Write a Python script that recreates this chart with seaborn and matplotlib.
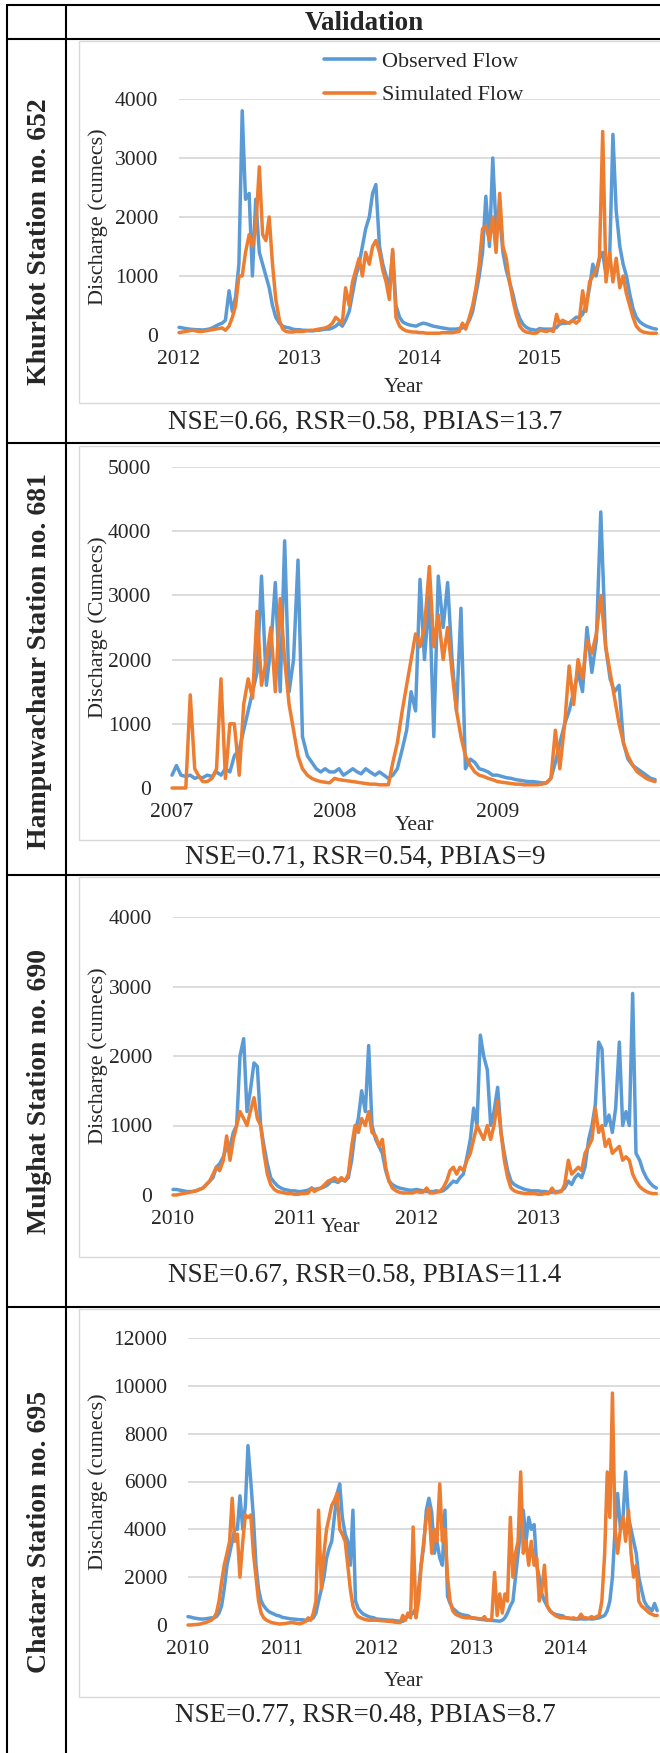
import pandas as pd
import matplotlib
matplotlib.use("Agg")
import matplotlib.pyplot as plt
import matplotlib.dates as mdates
from matplotlib.lines import Line2D
from matplotlib.patches import Rectangle
import seaborn as sns

# --- data: one value per dekad (1st, 11th, 21st of each month) ---

KHURKOT_YEARS = [2012, 2013, 2014, 2015]
khurkot_obs = [
    130, 120, 110, 100, 95, 90, 90, 85, 90, 100, 120, 150, 180, 200, 250, 750, 400, 650,
    1200, 3800, 2300, 2400, 1000, 2300, 1400, 1200, 1000, 800, 500, 300, 200, 150, 130, 120, 100, 90,
    90, 80, 80, 70, 70, 80, 80, 90, 100, 100, 120, 150, 200, 150, 250, 400, 700, 1000,
    1200, 1500, 1800, 2000, 2400, 2550, 1500, 1200, 1000, 800, 1400, 500, 300, 220, 190, 170, 160, 150,
    180, 200, 190, 170, 150, 140, 130, 120, 110, 100, 100, 100, 110, 120, 150, 250, 400, 700,
    1000, 1400, 2350, 1500, 3000, 1800, 2000, 1400, 1100, 900, 700, 450, 280, 180, 130, 100, 90, 80,
    110, 100, 100, 100, 100, 130, 180, 200, 200, 210, 250, 300, 300, 350, 500, 800, 1200, 1000,
    1300, 1400, 1000, 1300, 3400, 2100, 1500, 1200, 1000, 700, 450, 300, 220, 180, 150, 130, 110, 100,
]
khurkot_sim = [
    40, 50, 60, 70, 80, 70, 60, 60, 70, 80, 90, 100, 110, 120, 80, 150, 300, 500,
    1000, 1000, 1400, 1700, 1500, 1800, 2850, 1700, 1600, 2000, 1200, 600, 250, 100, 60, 50, 50, 60,
    60, 60, 70, 80, 80, 90, 100, 110, 120, 150, 200, 300, 250, 200, 800, 500, 900, 1100,
    1300, 1000, 1400, 1200, 1500, 1600, 1400, 1100, 900, 600, 1450, 300, 150, 100, 70, 60, 50, 50,
    40, 40, 30, 30, 30, 30, 30, 40, 40, 40, 40, 50, 60, 200, 100, 300, 500, 800,
    1200, 1800, 1850, 1600, 2000, 1400, 2400, 1500, 1300, 900, 600, 350, 150, 80, 50, 40, 30, 30,
    80, 70, 60, 80, 60, 350, 200, 250, 220, 200, 250, 200, 250, 750, 400, 900, 1000, 1100,
    1300, 3450, 900, 1400, 900, 1300, 800, 1000, 700, 500, 300, 150, 80, 50, 40, 30, 30, 30,
]

HAMPU_YEARS = [2007, 2008, 2009]
hampu_obs = [
    200, 350, 200, 180, 200, 150, 170, 160, 200, 180, 250, 200, 300, 250, 500, 600, 900, 1200,
    1500, 1800, 3300, 1600, 2200, 3200, 1500, 3850, 1500, 2000, 3550, 800, 500, 400, 300, 250, 300, 250,
    250, 300, 200, 250, 300, 250, 220, 300, 250, 200, 250, 200, 150, 200, 300, 600, 900, 1500,
    1200, 3250, 2000, 3000, 800, 3300, 2500, 3200, 2000, 1200, 2800, 300, 450, 400, 300, 280, 250, 200,
    200, 180, 160, 150, 130, 120, 110, 100, 100, 90, 80, 80, 150, 400, 700, 1000, 1200, 1500,
    1800, 1500, 2500, 1800, 2300, 4300, 2200, 1700, 1500, 1600, 700, 450, 350, 300, 250, 200, 150, 130,
]
hampu_sim = [
    0, 0, 0, 0, 1450, 300, 200, 100, 100, 150, 300, 1700, 150, 1000, 1000, 200, 1300, 1700,
    1400, 2750, 1600, 2000, 2500, 1500, 2950, 2000, 1300, 900, 500, 300, 200, 150, 120, 100, 90, 80,
    150, 130, 120, 110, 100, 90, 80, 70, 60, 60, 50, 50, 50, 400, 700, 1200, 1600, 2000,
    2400, 2200, 2500, 3450, 2200, 2700, 2000, 2500, 1800, 1200, 800, 500, 350, 250, 200, 180, 150, 130,
    100, 90, 80, 70, 60, 60, 50, 50, 50, 50, 60, 80, 150, 900, 300, 1000, 1900, 1300,
    2000, 1700, 2300, 2100, 2400, 3000, 2200, 1800, 1400, 1000, 700, 500, 350, 250, 200, 150, 120, 100,
]

MULGHAT_YEARS = [2010, 2011, 2012, 2013]
mulghat_obs = [
    80, 80, 70, 60, 50, 50, 50, 60, 80, 100, 150, 200, 250, 400, 450, 550, 700, 700,
    900, 1000, 2000, 2250, 1200, 1500, 1900, 1850, 1000, 700, 450, 250, 180, 130, 100, 80, 70, 60,
    60, 50, 50, 60, 70, 100, 80, 90, 100, 120, 150, 200, 200, 180, 220, 200, 250, 500,
    900, 1100, 1500, 1200, 2150, 1000, 800, 700, 600, 350, 200, 150, 120, 100, 90, 80, 70, 70,
    80, 70, 60, 50, 50, 50, 60, 50, 60, 100, 150, 200, 180, 250, 300, 550, 800, 1250,
    1000, 2300, 2000, 1800, 1000, 1200, 1550, 900, 600, 350, 200, 150, 120, 100, 80, 70, 60, 60,
    60, 50, 50, 40, 40, 50, 50, 60, 100, 200, 150, 250, 300, 250, 400, 800, 1000, 1300,
    2200, 2100, 1000, 1150, 900, 1250, 2200, 1000, 1200, 1000, 2900, 600, 500, 350, 250, 180, 130, 100,
]
mulghat_sim = [
    0, 0, 10, 20, 30, 40, 50, 60, 80, 100, 150, 200, 300, 400, 350, 500, 850, 500,
    800, 1000, 1200, 1100, 1000, 1200, 1400, 1100, 1000, 600, 300, 150, 80, 50, 40, 30, 20, 20,
    10, 10, 20, 20, 30, 100, 50, 80, 100, 150, 200, 220, 250, 200, 250, 200, 300, 700,
    1000, 900, 1100, 1000, 1200, 900, 850, 700, 800, 400, 200, 100, 60, 40, 30, 30, 30, 30,
    50, 40, 40, 100, 30, 30, 40, 50, 100, 200, 350, 400, 300, 400, 350, 500, 600, 800,
    1000, 900, 800, 1000, 800, 1000, 1350, 900, 500, 250, 100, 60, 40, 30, 20, 20, 20, 20,
    10, 10, 20, 20, 100, 30, 40, 50, 150, 500, 300, 350, 400, 350, 600, 700, 800, 1250,
    900, 1000, 700, 800, 600, 650, 700, 500, 550, 500, 300, 200, 120, 80, 50, 30, 20, 20,
]

CHATARA_YEARS = [2010, 2011, 2012, 2013, 2014]
chatara_obs = [
    350, 330, 300, 280, 260, 250, 250, 260, 280, 300, 300, 350, 500, 800, 1500, 2500, 3000, 3500,
    4000, 4000, 5400, 4000, 5000, 7500, 6000, 4500, 2500, 1500, 1000, 800, 650, 550, 500, 450, 400, 380,
    320, 300, 280, 260, 250, 240, 230, 220, 220, 200, 200, 250, 300, 500, 1000, 1500, 2000, 2800,
    3200, 3500, 4500, 5500, 5900, 4500, 3800, 3500, 2500, 4800, 1000, 700, 550, 450, 400, 350, 320, 300,
    250, 240, 230, 220, 210, 200, 200, 180, 170, 160, 150, 300, 350, 400, 500, 700, 1500, 2500,
    3300, 4800, 5300, 4700, 3000, 3500, 2800, 2500, 4800, 1200, 900, 700, 600, 500, 450, 420, 400, 380,
    300, 280, 260, 240, 230, 220, 210, 200, 190, 180, 170, 160, 200, 300, 500, 800, 1000, 2000,
    3000, 4000, 4800, 3500, 4500, 4000, 4200, 2500, 2000, 1300, 1000, 800, 600, 500, 450, 420, 400, 380,
    300, 280, 260, 250, 250, 250, 260, 250, 250, 260, 250, 260, 280, 300, 350, 400, 600, 1000,
    2000, 4000, 5500, 4000, 4500, 6400, 4500, 4000, 3500, 3000, 2000, 1500, 1000, 800, 700, 600, 900, 600,
]
chatara_sim = [
    0, 0, 10, 20, 30, 50, 80, 100, 150, 200, 300, 500, 1000, 1800, 2500, 3000, 3500, 5300,
    3500, 3800, 2000, 3500, 4600, 4500, 4600, 3000, 2000, 1000, 500, 300, 200, 150, 100, 80, 60, 40,
    50, 60, 80, 100, 100, 80, 60, 50, 100, 150, 300, 200, 500, 1000, 4800, 1500, 3000, 4000,
    4500, 5000, 5200, 5500, 4000, 3800, 3500, 2500, 1500, 800, 500, 350, 300, 250, 220, 200, 200, 200,
    200, 190, 180, 170, 160, 150, 140, 120, 110, 100, 400, 200, 500, 300, 4100, 300, 1000, 2500,
    3500, 4500, 4900, 3000, 4000, 3500, 5900, 3500, 4000, 2000, 1000, 600, 450, 400, 350, 320, 300, 300,
    300, 300, 280, 260, 250, 350, 200, 200, 250, 2200, 400, 1300, 500, 1300, 1000, 4500, 2000, 3000,
    3500, 6400, 3000, 3500, 2500, 3500, 2500, 2800, 1000, 1500, 2500, 800, 600, 500, 400, 350, 300, 300,
    300, 300, 280, 300, 250, 300, 450, 300, 300, 280, 350, 300, 350, 400, 1000, 3000, 6400, 4500,
    9700, 4000, 3000, 4000, 4500, 3500, 4800, 3000, 2000, 2500, 1000, 800, 700, 600, 500, 450, 400, 400,
]

STATIONS = ["Khurkot Station no. 652", "Hampuwachaur Station no. 681",
            "Mulghat Station no. 690", "Chatara Station no. 695"]
METRICS = ["NSE=0.66, RSR=0.58, PBIAS=13.7", "NSE=0.71, RSR=0.54, PBIAS=9",
           "NSE=0.67, RSR=0.58, PBIAS=11.4", "NSE=0.77, RSR=0.48, PBIAS=8.7"]
YLABELS = ["Discharge (cumecs)", "Discharge (Cumecs)", "Discharge (cumecs)", "Discharge (cumecs)"]
SERIES = ["Observed Flow", "Simulated Flow"]

# --- layout (pixels of the 660x1753 output) ---
W, H = 660, 1753
BLUE, ORANGE = "#5B9BD5", "#ED7D31"
GRID = "#D9D9D9"
SERIF = ["Liberation Serif", "DejaVu Serif"]

# ax left, ax top, ax bottom, ymax, ystep, year label xy, metric y, station label y, panel top, panel bottom
LAYOUT = [
    (179, 99, 335, 4000, 1000, (404, 388), 422, 242, 41, 403),
    (172, 467, 788, 5000, 1000, (415, 825), 857, 661, 446, 840),
    (173, 917, 1195, 4000, 1000, (341, 1228), 1275, 1091, 877, 1257),
    (188, 1338, 1625, 12000, 2000, (404, 1682), 1715, 1532, 1309, 1697),
]


def dekads(years):
    return pd.to_datetime([f"{y}-{m:02d}-{d:02d}" for y in years
                           for m in range(1, 13) for d in (1, 11, 21)])


def long_frame(years, obs, sim):
    dates = dekads(years)
    return pd.concat([
        pd.DataFrame({"date": dates, "flow": obs, "series": SERIES[0]}),
        pd.DataFrame({"date": dates, "flow": sim, "series": SERIES[1]}),
    ], ignore_index=True)


def fx(px):
    return px / W


def fy(py):
    return 1 - py / H


sns.set_theme(style="white")
plt.rcParams["font.family"] = SERIF

fig = plt.figure(figsize=(W / 100, H / 100), dpi=100)

frames = [
    (KHURKOT_YEARS, long_frame(KHURKOT_YEARS, khurkot_obs, khurkot_sim)),
    (HAMPU_YEARS, long_frame(HAMPU_YEARS, hampu_obs, hampu_sim)),
    (MULGHAT_YEARS, long_frame(MULGHAT_YEARS, mulghat_obs, mulghat_sim)),
    (CHATARA_YEARS, long_frame(CHATARA_YEARS, chatara_obs, chatara_sim)),
]

for k, ((years, df), lay) in enumerate(zip(frames, LAYOUT)):
    left, top, bottom, ymax, ystep, year_xy, met_y, lab_y, p_top, p_bot = lay

    # light grey chart-area border
    fig.add_artist(Rectangle((fx(79), fy(p_bot)), fx(700 - 79), (p_bot - p_top) / H,
                             transform=fig.transFigure, fill=False,
                             edgecolor=GRID, lw=1.0, zorder=0))

    ax = fig.add_axes([fx(left), fy(bottom), fx(W - left), (bottom - top) / H])
    ax.set_facecolor("none")
    sns.lineplot(data=df, x="date", y="flow", hue="series", hue_order=SERIES,
                 palette=[BLUE, ORANGE], linewidth=2.5, legend=False,
                 ax=ax, clip_on=False)

    ax.set_xlim(pd.Timestamp(f"{years[0]}-01-01"), pd.Timestamp(f"{years[-1] + 1}-01-01"))
    ax.set_ylim(0, ymax)
    ax.set_yticks(range(0, ymax + 1, ystep))
    ax.set_xticks([pd.Timestamp(f"{y}-01-01") for y in years])
    ax.xaxis.set_major_formatter(mdates.DateFormatter("%Y"))
    ax.grid(axis="y", color=GRID, lw=1.3)
    ax.set_axisbelow(True)
    for s in ax.spines.values():
        s.set_visible(False)
    ax.tick_params(axis="y", length=0, pad=15, labelsize=15.5)
    ax.tick_params(axis="x", length=0, pad=11, labelsize=15.5)
    ax.set_xlabel("")
    ax.set_ylabel("")

    fig.text(fx(98), fy((top + bottom) / 2), YLABELS[k], rotation=90,
             ha="center", va="center", fontsize=16)
    fig.text(fx(year_xy[0]), fy(year_xy[1]), "Year", ha="center", va="center", fontsize=15.5)
    fig.text(fx(365), fy(met_y), METRICS[k], ha="center", va="center", fontsize=19.5)
    fig.text(fx(40), fy(lab_y), STATIONS[k], rotation=90, ha="center", va="center",
             fontsize=20, fontweight="bold")

    if k == 0:
        handles = [Line2D([], [], color=BLUE, lw=2.6), Line2D([], [], color=ORANGE, lw=2.6)]
        fig.legend(handles, SERIES, loc="upper left", bbox_to_anchor=(fx(324), fy(51)),
                   frameon=False, fontsize=16, handlelength=2.3, handletextpad=0.3,
                   labelspacing=0.6, borderpad=0, borderaxespad=0)

# table rules
black = dict(transform=fig.transFigure, color="black", lw=1.5)
fig.add_artist(Line2D([fx(7), 1], [fy(5), fy(5)], **black))
fig.add_artist(Line2D([fx(7), fx(7)], [fy(5), 0], **black))
fig.add_artist(Line2D([fx(66), fx(66)], [fy(5), 0], **black))
for yy in (39, 443, 875, 1307):
    fig.add_artist(Line2D([fx(7), 1], [fy(yy), fy(yy)], **black))

fig.text(fx(364), fy(23), "Validation", ha="center", va="center",
         fontsize=19.5, fontweight="bold")

fig.savefig("out.png", dpi=100)
